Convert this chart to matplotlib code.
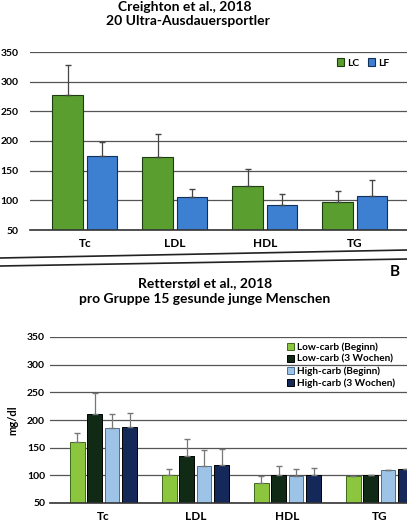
import numpy as np
import matplotlib
matplotlib.use('Agg')
import matplotlib.pyplot as plt
from matplotlib.lines import Line2D

plt.rcParams['font.family'] = ['Lato', 'DejaVu Sans']
plt.rcParams['font.weight'] = 'bold'

# Daten
kategorien = ['Tc', 'LDL', 'HDL', 'TG']
yticks = [50, 100, 150, 200, 250, 300, 350]

# A: Creighton et al., 2018
lc_werte = [278, 173, 125, 97]
lc_fehler = [50, 38, 27, 18]
lf_werte = [174, 106, 92, 108]
lf_fehler = [24, 13, 18, 26]

# B: Retterstøl et al., 2018
serien_b = ['Low-carb (Beginn)', 'Low-carb (3 Wochen)', 'High-carb (Beginn)', 'High-carb (3 Wochen)']
lcb_werte = [160, 100, 86, 98]
lcb_fehler = [16, 11, 12, 0]
lc3_werte = [210, 135, 101, 100]
lc3_fehler = [38, 30, 15, 0]
hcb_werte = [185, 116, 99, 110]
hcb_fehler = [26, 30, 12, 0]
hc3_werte = [187, 118, 101, 112]
hc3_fehler = [26, 30, 12, 0]

fig = plt.figure(figsize=(4.07, 5.24), dpi=100)
W, H = 407.0, 524.0

def style_axes(ax, xlim):
    ax.set_ylim(50, 350)
    ax.set_xlim(*xlim)
    ax.set_yticks(yticks)
    ax.yaxis.grid(True, color='#555555', lw=0.9)
    ax.set_axisbelow(True)
    for s in ['top', 'right', 'left']:
        ax.spines[s].set_visible(False)
    ax.spines['bottom'].set_color('#333333')
    ax.spines['bottom'].set_linewidth(1.2)
    ax.tick_params(length=0, labelsize=7.5)
    for t in ax.get_yticklabels():
        t.set_fontweight('bold')
    ax.set_xticks(range(len(kategorien)))
    ax.set_xticklabels(kategorien, fontsize=8.5, fontweight='bold')
    ax.tick_params(axis='x', pad=6)

# ---- Panel A
axA = fig.add_axes([30 / W, 1 - 230 / H, (W - 30) / W, 178 / H])
x = np.arange(len(kategorien))
bw = 0.34
axA.bar(x - 0.19, lc_werte, bw, bottom=0, color='#5a9e2f', edgecolor='#1e3d10', lw=0.8, label='LC')
axA.bar(x + 0.19, lf_werte, bw, bottom=0, color='#3d7fd0', edgecolor='#13305a', lw=0.8, label='LF')
axA.errorbar(x - 0.19, lc_werte, yerr=[np.zeros(4), lc_fehler], fmt='none', ecolor='#444444', elinewidth=0.9, capsize=2.5)
axA.errorbar(x + 0.19, lf_werte, yerr=[np.zeros(4), lf_fehler], fmt='none', ecolor='#444444', elinewidth=0.9, capsize=2.5)
style_axes(axA, (-0.61, 3.58))
axA.tick_params(axis='y', pad=8)
axA.legend(loc='upper right', bbox_to_anchor=(0.97, 1.0), ncol=2, frameon=False, fontsize=7.5,
           handlelength=0.7, handleheight=0.7, handletextpad=0.3, columnspacing=0.8, borderaxespad=0.2)
fig.text(185 / W, 1 - 7 / H, 'Creighton et al., 2018', ha='center', va='center', fontsize=10, fontweight='bold')
fig.text(188 / W, 1 - 21 / H, '20 Ultra-Ausdauersportler', ha='center', va='center', fontsize=10, fontweight='bold')

# Trennlinien
fig.add_artist(Line2D([0, 1], [1 - 258 / H, 1 - 250 / H], color='#222222', lw=1.2))
fig.add_artist(Line2D([0, 1], [1 - 266 / H, 1 - 259 / H], color='#222222', lw=1.2))

# ---- Panel B
axB = fig.add_axes([50 / W, 1 - 503 / H, (W - 50) / W, 166 / H])
bw2 = 0.16
off = [-0.285, -0.095, 0.095, 0.285]
farben = ['#8cc63f', '#112a16', '#9dc3e6', '#14285a']
kanten = ['#3d6a1a', '#000000', '#4a6f93', '#000000']
werte_b = [lcb_werte, lc3_werte, hcb_werte, hc3_werte]
fehler_b = [lcb_fehler, lc3_fehler, hcb_fehler, hc3_fehler]
for i in range(4):
    axB.bar(x + off[i], werte_b[i], bw2, color=farben[i], edgecolor=kanten[i], lw=0.7, label=serien_b[i])
    axB.errorbar(x + off[i], werte_b[i], yerr=[np.zeros(4), fehler_b[i]], fmt='none', ecolor='#777777',
                 elinewidth=0.9, capsize=2)
style_axes(axB, (-0.58, 3.3))
axB.set_ylabel('mg/dl', fontsize=8, fontweight='bold', labelpad=6)
axB.legend(loc='upper left', bbox_to_anchor=(0.64, 1.02), ncol=1, frameon=False, fontsize=7.2,
           handlelength=0.7, handleheight=0.7, handletextpad=0.3, labelspacing=0.25)
fig.text(205 / W, 1 - 283 / H, 'Retterstøl et al., 2018', ha='center', va='center', fontsize=10, fontweight='bold')
fig.text(205 / W, 1 - 299 / H, 'pro Gruppe 15 gesunde junge Menschen', ha='center', va='center', fontsize=10, fontweight='bold')
fig.text(395 / W, 1 - 272 / H, 'B', ha='center', va='center', fontsize=11, fontweight='bold')

fig.savefig('out.png', dpi=100)
